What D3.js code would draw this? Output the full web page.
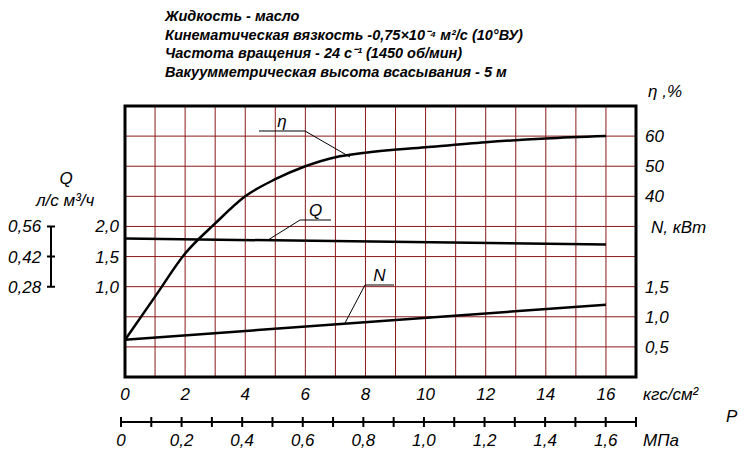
<!DOCTYPE html>
<html><head><meta charset="utf-8">
<script src="https://cdn.jsdelivr.net/npm/d3@7"></script>
<style>
body{margin:0;background:#fff}
text{font-family:"Liberation Sans",Arial,sans-serif;font-style:italic;fill:#000}
.t{font-weight:bold;font-size:14.5px}
.l{font-size:17px}
</style></head><body>
<svg id="c" width="748" height="455"></svg>
<script>
// data
var pressure = [0, 1, 2, 3, 4, 5, 6, 7, 8, 10, 12, 14, 16];
var eta = [-7.7, 6.7, 21, 31, 40, 45.7, 50, 53, 54.5, 56.3, 58, 59.2, 60];
var qEnds = [[0, 1.8], [16, 1.7]];
var nEnds = [[0, 0.62], [16, 1.2]];
var kgsTicks = [0, 2, 4, 6, 8, 10, 12, 14, 16];
var etaTicks = [60, 50, 40];
var nTicks = [1.5, 1.0, 0.5];
var qTicks = [2.0, 1.5, 1.0];
var qLps = ["0,56", "0,42", "0,28"];
var titles = ["Жидкость - масло",
  "Кинематическая вязкость -0,75×10⁻⁴ м²/с (10°ВУ)",
  "Частота вращения - 24 с⁻¹ (1450 об/мин)",
  "Вакуумметрическая высота всасывания - 5 м"];

var svg = d3.select("#c");
var L = 125, R = 636, T = 106, B = 377;
var x = d3.scaleLinear().domain([0, 17]).range([L, R]);
var yEta = d3.scaleLinear().domain([-20, 70]).range([B, T]);
var yQ = d3.scaleLinear().domain([-0.5, 4.0]).range([B, T]);  // 2.0 -> 227
var yN = d3.scaleLinear().domain([0, 4.5]).range([B, T]);     // 0.5 -> 347
var fmt = function(v) { return d3.format(".1f")(v).replace(".", ","); };

titles.forEach(function(s, i) {
  svg.append("text").attr("class", "t").attr("x", 165).attr("y", 21 + i * 18.7).text(s);
});

// grid
var g = svg.append("g").attr("stroke", "#8b1a1a").attr("stroke-width", 1);
d3.range(1, 17).forEach(function(v) {
  g.append("line").attr("x1", x(v)).attr("x2", x(v)).attr("y1", T).attr("y2", B);
});
d3.range(1, 9).forEach(function(i) {
  var yy = yEta(70 - i * 10);
  g.append("line").attr("x1", L).attr("x2", R).attr("y1", yy).attr("y2", yy);
});
svg.append("rect").attr("x", L).attr("y", T).attr("width", R - L).attr("height", B - T)
  .attr("fill", "none").attr("stroke", "#000").attr("stroke-width", 3);

// curves
var line = function(ys) {
  return d3.line().x(function(d) { return x(d[0]); }).y(function(d) { return ys(d[1]); });
};
svg.append("path").datum(pressure.map(function(p, i) { return [p, eta[i]]; }))
  .attr("d", line(yEta).curve(d3.curveMonotoneX)).attr("fill", "none").attr("stroke", "#000").attr("stroke-width", 2.5);
svg.append("path").datum(qEnds).attr("d", line(yQ)).attr("fill", "none").attr("stroke", "#000").attr("stroke-width", 2.5);
svg.append("path").datum(nEnds).attr("d", line(yN)).attr("fill", "none").attr("stroke", "#000").attr("stroke-width", 2.5);

// leaders
function leader(lx1, lx2, ly, px, py, label, serif) {
  svg.append("path").attr("d", "M" + lx1 + "," + ly + "H" + lx2 + "M" + serif + "," + ly + "L" + px + "," + py)
    .attr("fill", "none").attr("stroke", "#000").attr("stroke-width", 1);
  svg.append("text").attr("class", "l").attr("x", (lx1 + lx2) / 2).attr("y", ly - 4).attr("text-anchor", "middle").text(label);
}
leader(259, 305, 131, 350, 157, "η", 305);
leader(300, 331, 220, 268, 240, "Q", 300);
leader(365, 394, 285, 345, 323, "N", 365);

// right axis labels
etaTicks.forEach(function(v) {
  svg.append("text").attr("class", "l").attr("x", 645).attr("y", yEta(v) + 6).text(v);
});
nTicks.forEach(function(v) {
  svg.append("text").attr("class", "l").attr("x", 645).attr("y", yN(v) + 6).text(fmt(v));
});
svg.append("text").attr("class", "l").attr("x", 648).attr("y", 97).text("η ,%");
svg.append("text").attr("class", "l").attr("x", 651).attr("y", 233).text("N, кВт");

// left axis labels
qTicks.forEach(function(v, i) {
  svg.append("text").attr("class", "l").attr("x", 119).attr("y", yQ(v) + 6).attr("text-anchor", "end").text(fmt(v));
  svg.append("text").attr("class", "l").attr("x", 8).attr("y", yQ(v) + 6).text(qLps[i]);
});
svg.append("path").attr("d", "M51," + yQ(2) + "V" + yQ(1) + "M47," + yQ(2) + "H55M47," + yQ(1.5) + "H55M47," + yQ(1) + "H55")
  .attr("stroke", "#000").attr("stroke-width", 2).attr("fill", "none");
svg.append("text").attr("class", "l").attr("x", 66).attr("y", 184).attr("text-anchor", "middle").text("Q");
svg.append("text").attr("class", "l").attr("x", 36).attr("y", 206).text("л/с  м³/ч");

// bottom axes
kgsTicks.forEach(function(v) {
  svg.append("text").attr("class", "l").attr("x", x(v)).attr("y", 400).attr("text-anchor", "middle").text(v);
});
svg.append("text").attr("class", "l").attr("x", 643).attr("y", 400).text("кгс/см²");
var mpa = d3.scaleLinear().domain([0, 1.7]).range([L - 4, R]);
var ax = svg.append("g").attr("transform", "translate(0,422)");
ax.append("line").attr("x1", mpa(0)).attr("x2", mpa(1.7)).attr("stroke", "#000").attr("stroke-width", 2);
d3.range(0, 18).forEach(function(i) {
  ax.append("line").attr("x1", mpa(i / 10)).attr("x2", mpa(i / 10)).attr("y1", -5).attr("y2", 5).attr("stroke", "#000").attr("stroke-width", 2);
});
d3.range(0, 17, 2).forEach(function(i) {
  svg.append("text").attr("class", "l").attr("x", mpa(i / 10)).attr("y", 446).attr("text-anchor", "middle").text(i === 0 ? "0" : fmt(i / 10));
});
svg.append("text").attr("class", "l").attr("x", 643).attr("y", 446).text("МПа");
svg.append("text").attr("class", "l").attr("x", 726).attr("y", 422).text("P");
</script>
</body></html>
